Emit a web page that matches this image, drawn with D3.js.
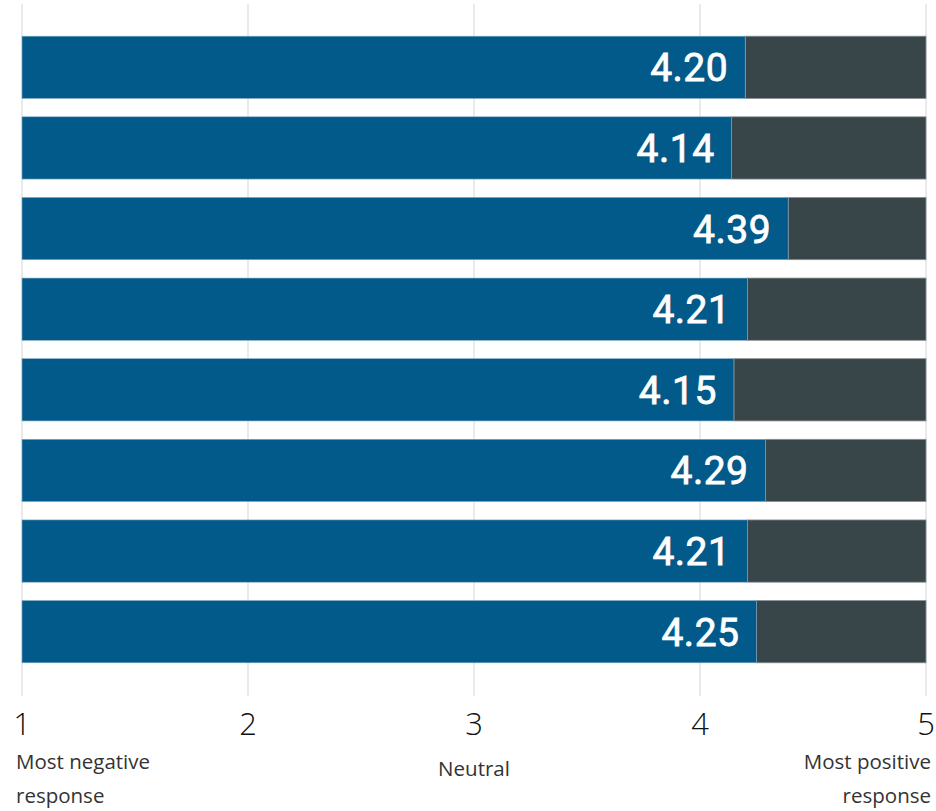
<!DOCTYPE html>
<html>
<head>
<meta charset="utf-8">
<script src="https://cdn.jsdelivr.net/npm/d3@7"></script>
<style>
  body { margin: 0; background: #fff; }
  svg { display: block; }
</style>
</head>
<body>
<svg id="chart"></svg>
<script>
// one bar per question, scored 1..5
var questions = ['q1', 'q2', 'q3', 'q4', 'q5', 'q6', 'q7', 'q8'];
var scores = [4.20, 4.14, 4.39, 4.21, 4.15, 4.29, 4.21, 4.25];
var ticks = [1, 2, 3, 4, 5];
var tickNotes = [['Most negative', 'response'], [], ['Neutral'], [], ['Most positive', 'response']];

var W = 936, H = 811;
var svg = d3.select('#chart').attr('width', W).attr('height', H);

var x = d3.scaleLinear().domain([1, 5]).range([22, 926]);
var y = d3.scaleBand().domain(questions).range([27, 672]).paddingInner(0.228).paddingOuter(0.114);

// grid
svg.selectAll('line.grid')
  .data(ticks)
  .enter()
  .append('line')
  .attr('class', 'grid')
  .attr('x1', function(d){ return x(d); })
  .attr('x2', function(d){ return x(d); })
  .attr('y1', 4)
  .attr('y2', 696)
  .attr('stroke', '#e3e3e3')
  .attr('stroke-width', 1.5);

var rows = svg.selectAll('g.row')
  .data(scores)
  .enter()
  .append('g')
  .attr('class', 'row')
  .attr('transform', function(d, i){ return 'translate(0,' + y(questions[i]) + ')'; });

// remaining part up to 5
rows.append('rect')
  .attr('x', function(d){ return x(d); })
  .attr('y', 0)
  .attr('width', function(d){ return x(5) - x(d); })
  .attr('height', y.bandwidth())
  .attr('fill', '#384649')
  .attr('stroke', '#8a9192')
  .attr('stroke-width', 0.8);

rows.append('rect')
  .attr('x', x(1))
  .attr('y', 0)
  .attr('width', function(d){ return x(d) - x(1); })
  .attr('height', y.bandwidth())
  .attr('fill', '#025a8a')
  .attr('stroke', '#7fa8c2')
  .attr('stroke-width', 0.6);

rows.append('text')
  .text(function(d){ return d.toFixed(2); })
  .attr('x', function(d){ return x(d) - 17; })
  .attr('y', y.bandwidth() / 2 + 14)
  .attr('text-anchor', 'end')
  .attr('fill', '#fff')
  .attr('stroke', '#fff')
  .attr('stroke-width', 0.8)
  .style('font-family', 'Roboto')
  .style('font-weight', '400')
  .style('font-size', '39px')
  .style('letter-spacing', '0.5px');

// axis numbers
svg.selectAll('text.tick')
  .data(ticks)
  .enter()
  .append('text')
  .attr('class', 'tick')
  .text(function(d){ return d; })
  .attr('x', function(d){ return x(d); })
  .attr('y', 735)
  .attr('text-anchor', 'middle')
  .attr('fill', '#111')
  .style('font-family', '"Open Sans"')
  .style('font-weight', '300')
  .style('font-size', '31px');

// notes under 1, 3, 5
var anchors = ['start', 'middle', 'middle', 'middle', 'end'];
var dx = [-6, 0, 0, 0, 5];
var noteY = [769, 0, 776, 0, 769];
ticks.forEach(function(t, i){
  tickNotes[i].forEach(function(line, j){
    svg.append('text')
      .text(line)
      .attr('x', x(t) + dx[i])
      .attr('y', noteY[i] + j * 34)
      .attr('text-anchor', anchors[i])
      .attr('fill', '#333')
      .style('font-family', '"Open Sans"')
      .style('font-size', '20.5px');
  });
});
</script>
</body>
</html>
